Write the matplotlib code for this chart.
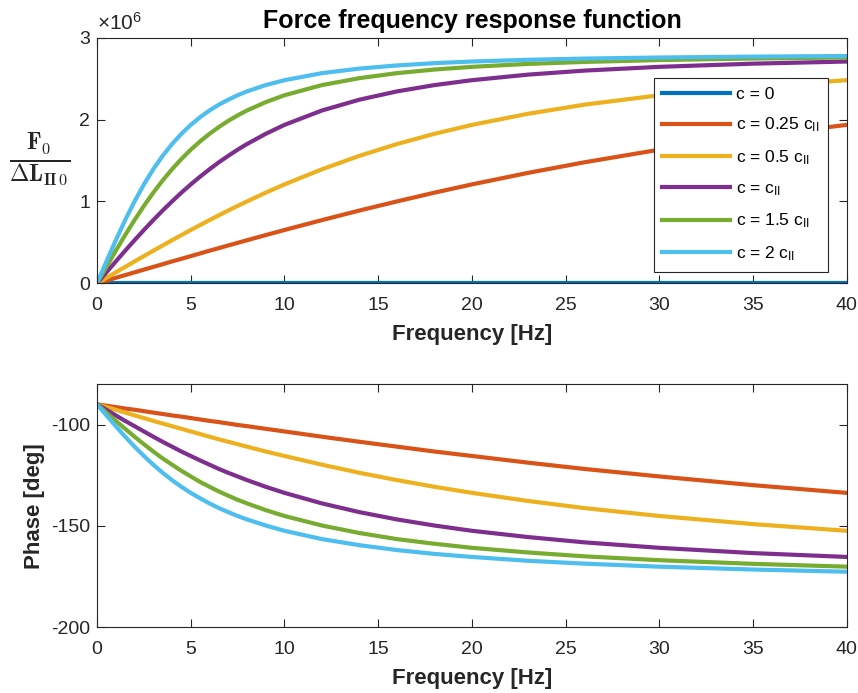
import matplotlib
matplotlib.use("Agg")
import matplotlib.pyplot as plt
from matplotlib.ticker import FixedLocator, FuncFormatter

plt.rcParams["font.family"] = ["Liberation Sans", "DejaVu Sans"]
plt.rcParams["mathtext.fontset"] = "custom"
plt.rcParams["mathtext.rm"] = "Liberation Sans"
plt.rcParams["mathtext.it"] = "Liberation Sans:italic"
plt.rcParams["mathtext.bf"] = "Liberation Sans:bold"
plt.rcParams["axes.unicode_minus"] = False

# Frequency grid [Hz]
freq = [0, 0.5, 1, 1.5, 2, 2.5, 3, 3.5, 4, 4.5, 5, 5.5, 6, 6.5, 7, 7.5, 8, 9,
        10, 12, 14, 16, 18, 20, 23, 26, 30, 35, 40]

# Magnitude of F0 / dL_II0, in units of 1e6
mag_c0 = [0] * len(freq)
mag_c025 = [0, 0.033, 0.067, 0.100, 0.134, 0.167, 0.200, 0.233, 0.267, 0.299, 0.332, 0.365, 0.398, 0.430, 0.462,
            0.494, 0.526, 0.589, 0.651, 0.772, 0.889, 1.000, 1.107, 1.208, 1.349, 1.478, 1.632, 1.797, 1.935]
mag_c05 = [0, 0.067, 0.134, 0.200, 0.267, 0.332, 0.398, 0.462, 0.526, 0.589, 0.651, 0.712, 0.772, 0.831, 0.889,
           0.945, 1.000, 1.107, 1.208, 1.393, 1.557, 1.701, 1.826, 1.935, 2.071, 2.182, 2.297, 2.403, 2.481]
mag_c1 = [0, 0.134, 0.267, 0.398, 0.526, 0.651, 0.772, 0.889, 1.000, 1.107, 1.208, 1.303, 1.393, 1.478, 1.557,
          1.632, 1.701, 1.826, 1.935, 2.111, 2.243, 2.344, 2.421, 2.481, 2.549, 2.598, 2.644, 2.683, 2.709]
mag_c15 = [0, 0.200, 0.398, 0.589, 0.772, 0.945, 1.107, 1.256, 1.393, 1.518, 1.632, 1.734, 1.826, 1.909, 1.984,
           2.051, 2.111, 2.213, 2.297, 2.421, 2.506, 2.567, 2.611, 2.644, 2.680, 2.704, 2.727, 2.746, 2.758]
mag_c2 = [0, 0.267, 0.526, 0.772, 1.000, 1.208, 1.393, 1.557, 1.701, 1.826, 1.935, 2.029, 2.111, 2.182, 2.243,
          2.297, 2.344, 2.421, 2.481, 2.567, 2.623, 2.661, 2.689, 2.709, 2.730, 2.745, 2.758, 2.769, 2.776]

# Phase [deg]
ph_c025 = [-90, -90.7, -91.4, -92.1, -92.7, -93.4, -94.1, -94.8, -95.5, -96.1, -96.8, -97.5, -98.2, -98.8, -99.5,
           -100.2, -100.8, -102.1, -103.4, -106.0, -108.5, -110.9, -113.3, -115.5, -118.8, -121.9, -125.6, -129.9,
           -133.7]
ph_c05 = [-90, -91.4, -92.7, -94.1, -95.5, -96.8, -98.2, -99.5, -100.8, -102.1, -103.4, -104.7, -106.0, -107.3,
          -108.5, -109.7, -110.9, -113.3, -115.5, -119.8, -123.8, -127.4, -130.7, -133.7, -137.7, -141.2, -145.1,
          -149.1, -152.4]
ph_c1 = [-90, -92.7, -95.5, -98.2, -100.8, -103.4, -106.0, -108.5, -110.9, -113.3, -115.5, -117.7, -119.8, -121.9,
         -123.8, -125.6, -127.4, -130.7, -133.7, -138.9, -143.2, -146.8, -149.8, -152.4, -155.5, -158.1, -160.8,
         -163.4, -165.3]
ph_c15 = [-90, -94.1, -98.2, -102.1, -106.0, -109.7, -113.3, -116.7, -119.8, -122.8, -125.6, -128.3, -130.7, -133.0,
          -135.1, -137.1, -138.9, -142.2, -145.1, -149.8, -153.5, -156.5, -158.8, -160.8, -163.1, -165.0, -166.9,
          -168.7, -170.1]
ph_c2 = [-90, -95.5, -100.8, -106.0, -110.9, -115.5, -119.8, -123.8, -127.4, -130.7, -133.7, -136.4, -138.9, -141.2,
         -143.2, -145.1, -146.8, -149.8, -152.4, -156.5, -159.5, -161.9, -163.8, -165.3, -167.2, -168.6, -170.1,
         -171.5, -172.6]

labels = [
    "c = 0",
    r"c = 0.25 c$_{\mathregular{II}}$",
    r"c = 0.5 c$_{\mathregular{II}}$",
    r"c = c$_{\mathregular{II}}$",
    r"c = 1.5 c$_{\mathregular{II}}$",
    r"c = 2 c$_{\mathregular{II}}$",
]
colors = ["#0072BD", "#D95319", "#EDB120", "#7E2F8E", "#77AC30", "#4DBEEE"]

mags = [mag_c0, mag_c025, mag_c05, mag_c1, mag_c15, mag_c2]
phases = [None, ph_c025, ph_c05, ph_c1, ph_c15, ph_c2]

axis_col = "#262626"
lw = 3.0

fig = plt.figure(figsize=(8.58, 6.93), dpi=100)
ax1 = fig.add_axes([0.1131, 0.5912, 0.8738, 0.3544])
ax2 = fig.add_axes([0.1131, 0.0948, 0.8738, 0.3511])

for m, c, lab in zip(mags, colors, labels):
    ax1.plot(freq, [v * 1e6 for v in m], color=c, lw=lw, label=lab,
             solid_joinstyle="round")
for p, c in zip(phases, colors):
    if p is not None:
        ax2.plot(freq, p, color=c, lw=lw, solid_joinstyle="round")

ax1.set_xlim(0, 40)
ax1.set_ylim(0, 3e6)
ax1.yaxis.set_major_locator(FixedLocator([0, 1e6, 2e6, 3e6]))
ax1.yaxis.set_major_formatter(FuncFormatter(lambda v, _: f"{v / 1e6:g}"))
ax1.text(0.0, 1.015, r"$\times$10$^{6}$", transform=ax1.transAxes,
         fontsize=15, color=axis_col, ha="left", va="bottom")

ax2.set_xlim(0, 40)
ax2.set_ylim(-200, -80)
ax2.set_yticks([-200, -150, -100])

for ax in (ax1, ax2):
    ax.set_xticks(range(0, 41, 5))
    ax.tick_params(direction="in", length=6, width=0.8, colors=axis_col,
                   labelsize=14, top=True, right=True)
    ax.tick_params(axis="x", pad=10)
    ax.tick_params(axis="y", pad=5)
    for s in ax.spines.values():
        s.set_color(axis_col)
        s.set_linewidth(0.8)
    ax.set_xlabel("Frequency [Hz]", fontsize=16, fontweight="bold",
                  color=axis_col, labelpad=7)

ax1.set_title("Force frequency response function", fontsize=18,
              fontweight="bold", color="black", pad=7)

ax1.set_ylabel(r"$\mathbf{\frac{F_0}{\Delta L_{II\,0}}}$", rotation=0,
               fontsize=24, color=axis_col, math_fontfamily="cm",
               va="center", ha="center")
ax1.yaxis.set_label_coords(-0.076, 0.5)

ax2.set_ylabel("Phase [deg]", fontsize=16, fontweight="bold",
               color=axis_col, labelpad=4)

leg = ax1.legend(loc="upper right", bbox_to_anchor=(0.975, 0.836),
                 borderaxespad=0, fontsize=12.5, handlelength=3.9,
                 handletextpad=0.35, labelspacing=0.8, borderpad=0.5,
                 fancybox=False, framealpha=1, edgecolor=axis_col)
leg.get_frame().set_linewidth(0.8)

fig.savefig("out.png", dpi=100)
